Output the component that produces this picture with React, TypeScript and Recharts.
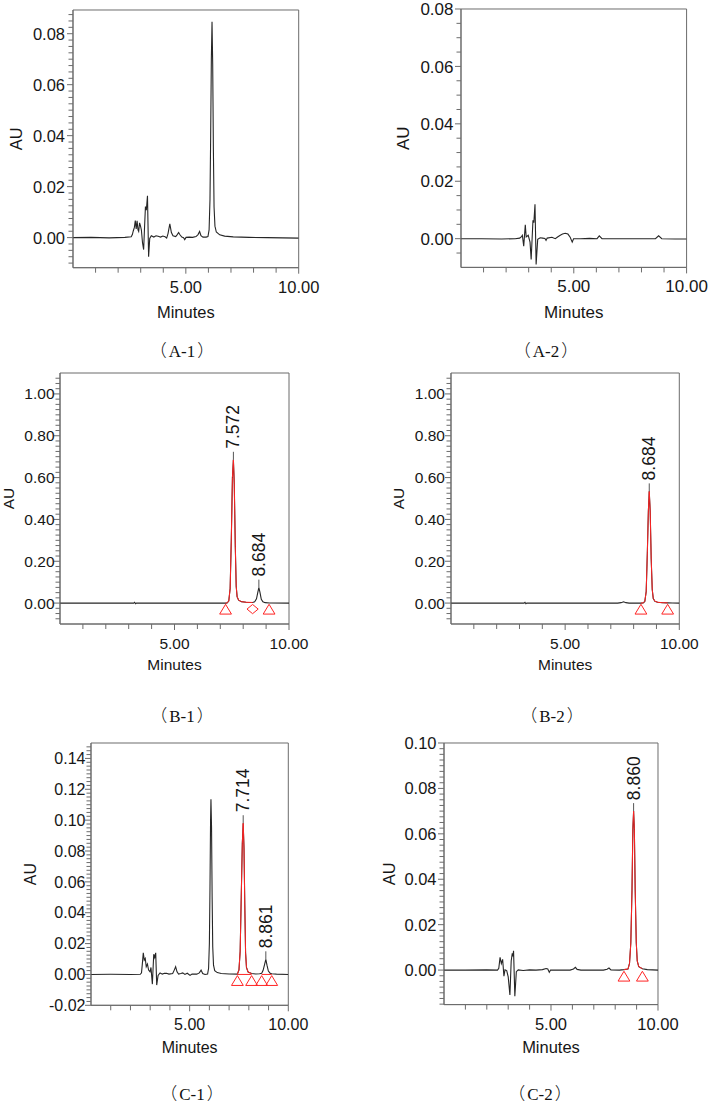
import React from 'react';
import { ComposedChart, Line, Scatter, XAxis, YAxis, ReferenceArea, Label } from 'recharts';

type Pt = [number, number];

// ---------- axis ticks ----------
const xTickValues = [0, 1, 2, 3, 4, 5, 6, 7, 8, 9, 10];
const xMajorTicks = [5, 10];

const a1Majors = [0, 0.02, 0.04, 0.06, 0.08];
const a2Majors = [0, 0.02, 0.04, 0.06, 0.08];
const bMajors = [0, 0.2, 0.4, 0.6, 0.8, 1.0];
const c1Majors = [-0.02, 0, 0.02, 0.04, 0.06, 0.08, 0.1, 0.12, 0.14];
const c2Majors = [0, 0.02, 0.04, 0.06, 0.08, 0.1];

// ---------- A-1 ----------
const a1Trace: Pt[] = [
  [0.0, 0.0], [0.8, 0.0001], [1.6, -0.0001], [2.3, 0.0001], [2.58, 0.0003],
  [2.63, 0.0012], [2.67, 0.0026], [2.72, 0.004], [2.76, 0.0067], [2.8, 0.0034],
  [2.84, 0.0066], [2.88, 0.003], [2.91, 0.0024], [2.95, 0.0058], [2.99, 0.0046],
  [3.03, 0.003], [3.08, -0.002], [3.13, -0.0047], [3.17, 0.004], [3.21, 0.0122],
  [3.25, 0.0108], [3.3, 0.0164], [3.35, -0.0075], [3.4, -0.0003], [3.47, 0.0007],
  [3.58, 0.0002], [3.68, 0.0007], [3.77, 0.0005], [3.88, 0.0002], [3.98, 0.0006],
  [4.08, 0.0003], [4.15, -0.0002], [4.21, 0.0016], [4.29, 0.0054], [4.36, 0.002],
  [4.43, 0.0007], [4.55, 0.0004], [4.62, 0.0012], [4.68, 0.002], [4.74, 0.0011],
  [4.82, 0.0002], [4.9, 0.0], [4.95, -0.0008], [5.01, 0.0001], [5.15, 0.0002],
  [5.3, 0.0001], [5.45, 0.0004], [5.54, 0.0012], [5.61, 0.0024], [5.67, 0.0008],
  [5.76, 0.0002], [5.9, 0.0002], [5.98, 0.0004], [6.03, 0.003], [6.07, 0.015],
  [6.1, 0.04], [6.13, 0.07], [6.16, 0.0847], [6.19, 0.068], [6.22, 0.035],
  [6.25, 0.012], [6.29, 0.0045], [6.35, 0.0022], [6.5, 0.0011], [6.72, 0.0006],
  [7.1, 0.0003], [7.8, 0.0001], [8.6, 0.0], [9.3, -0.0001], [10.0, -0.0002],
];

// ---------- A-2 ----------
const a2Trace: Pt[] = [
  [0.0, 0.0], [0.9, 0.0], [1.8, -0.0001], [2.4, 0.0], [2.6, 0.0002],
  [2.67, 0.0006], [2.72, 0.0012], [2.78, -0.0026], [2.85, 0.0048], [2.89, 0.0006],
  [2.98, 0.0012], [3.06, -0.0012], [3.11, -0.0072], [3.19, 0.0064], [3.23, 0.0056],
  [3.28, 0.012], [3.33, -0.009], [3.4, -0.0002], [3.51, 0.0003], [3.62, 0.0002],
  [3.72, 0.0001], [3.77, -0.0006], [3.82, 0.0002], [4.03, 0.0005], [4.18, 0.0],
  [4.28, 0.0006], [4.4, 0.0012], [4.5, 0.0016], [4.62, 0.0019], [4.74, 0.0016],
  [4.84, 0.0005], [4.93, -0.0012], [4.99, 0.0], [5.3, 0.0], [5.7, 0.0001],
  [6.03, 0.0], [6.13, 0.001], [6.25, 0.0], [7.0, 0.0], [7.65, 0.0],
  [8.62, 0.0], [8.76, 0.001], [8.9, 0.0], [9.5, -0.0001], [10.0, -0.0001],
];

// ---------- B-1 ----------
const b1Pre: Pt[] = [
  [0.0, 0.0], [1.5, 0.0], [3.0, 0.0], [3.22, 0.0], [3.26, 0.004], [3.3, -0.003],
  [3.34, 0.0], [4.5, 0.0], [6.0, 0.0], [7.0, 0.0],
];
const b1Red: Pt[] = [
  [7.23, 0.0], [7.3, 0.001], [7.37, 0.01], [7.43, 0.07], [7.48, 0.3], [7.53, 0.6],
  [7.572, 0.685], [7.61, 0.57], [7.655, 0.27], [7.695, 0.08], [7.735, 0.03], [7.8, 0.014],
  [7.92, 0.007], [8.12, 0.004], [8.41, 0.003],
];
const b1Post: Pt[] = [
  [8.5, 0.006], [8.58, 0.02], [8.64, 0.052], [8.684, 0.074], [8.73, 0.052], [8.79, 0.018],
  [8.86, 0.006], [8.96, 0.002], [9.15, 0.0005], [10.0, 0.0],
];
const b1Markers = [
  { t: 7.23, au: 0, kind: 'tri' },
  { t: 8.41, au: 0, kind: 'dia' },
  { t: 9.13, au: 0, kind: 'tri' },
];
const b1Labels = [
  { t: 7.572, au: 0.685, text: '7.572' },
  { t: 8.684, au: 0.074, text: '8.684' },
];

// ---------- B-2 ----------
const b2Pre: Pt[] = [
  [0.0, 0.0], [1.5, 0.0], [3.0, 0.0], [3.2, 0.0], [3.24, 0.004], [3.28, -0.003],
  [3.32, 0.0], [5.0, 0.0], [7.3, 0.0], [7.45, 0.002], [7.56, 0.006], [7.66, 0.002],
  [7.8, 0.0],
];
const b2Red: Pt[] = [
  [8.32, 0.0], [8.42, 0.001], [8.49, 0.008], [8.55, 0.055], [8.6, 0.24], [8.645, 0.44],
  [8.684, 0.534], [8.725, 0.44], [8.77, 0.21], [8.815, 0.065], [8.86, 0.022], [8.93, 0.009],
  [9.05, 0.004], [9.25, 0.002], [9.49, 0.001],
];
const b2Post: Pt[] = [[9.7, 0.0005], [10.0, 0.0]];
const b2Markers = [
  { t: 8.32, au: 0, kind: 'tri' },
  { t: 9.49, au: 0, kind: 'tri' },
];
const b2Labels = [{ t: 8.684, au: 0.534, text: '8.684' }];

// ---------- C-1 ----------
const c1Pre: Pt[] = [
  [0.0, 0.0], [1.0, 0.0001], [2.0, 0.0], [2.5, 0.0001], [2.56, 0.001], [2.6, 0.0065],
  [2.65, 0.014], [2.7, 0.0093], [2.75, 0.0104], [2.8, 0.005], [2.86, 0.0067], [2.92, 0.0028],
  [2.99, 0.0017], [3.04, 0.0045], [3.11, -0.0063], [3.18, 0.0131], [3.23, 0.011], [3.28, 0.014],
  [3.33, -0.0069], [3.4, -0.0006], [3.5, 0.001], [3.62, 0.0002], [3.72, 0.0007], [3.83, 0.0008],
  [3.95, 0.0002], [4.14, 0.0006], [4.22, 0.0028], [4.29, 0.005], [4.36, 0.0017], [4.44, 0.0002],
  [4.55, 0.0006], [4.65, 0.001], [4.76, 0.0], [4.88, 0.0008], [5.02, -0.0006], [5.12, 0.0002],
  [5.36, 0.0002], [5.49, 0.001], [5.58, 0.0028], [5.66, 0.0006], [5.78, 0.0], [5.91, 0.0003],
  [5.96, 0.004], [6.0, 0.02], [6.03, 0.055], [6.06, 0.1], [6.08, 0.1136], [6.11, 0.095],
  [6.14, 0.05], [6.17, 0.018], [6.21, 0.006], [6.27, 0.0025], [6.4, 0.0012], [6.6, 0.0006],
  [7.0, 0.0003],
];
const c1Red: Pt[] = [
  [7.42, 0.0002], [7.5, 0.003], [7.56, 0.015], [7.615, 0.05], [7.67, 0.085], [7.714, 0.098],
  [7.755, 0.082], [7.795, 0.045], [7.835, 0.014], [7.88, 0.0045], [7.96, 0.0016], [8.14, 0.0006],
];
const c1Mid: Pt[] = [[8.35, 0.0003], [8.55, 0.0004]];
const c1Minor: Pt[] = [
  [8.65, 0.0008], [8.72, 0.0025], [8.79, 0.006], [8.861, 0.0098], [8.92, 0.006],
  [8.99, 0.0022], [9.08, 0.0008], [9.16, 0.0004],
];
const c1Post: Pt[] = [[9.4, 0.0002], [10.0, 0.0]];
const c1RedBase1: Pt[] = [[7.42, 0.0], [8.14, 0.0]];
const c1RedBase2: Pt[] = [[8.65, 0.0], [9.16, 0.0]];
const c1Markers = [
  { t: 7.42, au: 0, kind: 'tri' },
  { t: 8.14, au: 0, kind: 'tri' },
  { t: 8.65, au: 0, kind: 'tri' },
  { t: 9.16, au: 0, kind: 'tri' },
];
const c1Labels = [
  { t: 7.714, au: 0.098, text: '7.714' },
  { t: 8.861, au: 0.0098, text: '8.861' },
];

// ---------- C-2 ----------
const c2Pre: Pt[] = [
  [0.0, 0.0], [1.0, 0.0], [2.0, 0.0001], [2.5, 0.0], [2.56, 0.0008], [2.62, 0.0056],
  [2.68, 0.0029], [2.74, 0.0047], [2.8, -0.0027], [2.85, 0.0001], [2.93, -0.0002], [3.0, -0.003],
  [3.08, -0.011], [3.14, 0.004], [3.19, 0.0074], [3.22, 0.006], [3.25, 0.0085], [3.31, -0.0115],
  [3.38, -0.0007], [3.47, 0.0001], [3.7, -0.0002], [4.0, 0.0001], [4.3, 0.0], [4.6, 0.0002],
  [4.77, 0.0007], [4.85, 0.0005], [4.92, -0.001], [4.98, 0.0], [5.4, 0.0], [5.89, 0.0],
  [6.05, 0.0005], [6.14, 0.0012], [6.22, 0.0003], [6.4, 0.0], [7.0, 0.0], [7.45, 0.0],
  [7.62, 0.0004], [7.71, 0.0009], [7.8, 0.0001], [8.2, 0.0],
];
const c2Red: Pt[] = [
  [8.41, 0.0002], [8.6, 0.0005], [8.67, 0.003], [8.73, 0.012], [8.785, 0.035], [8.825, 0.062],
  [8.86, 0.07], [8.895, 0.062], [8.935, 0.035], [8.985, 0.012], [9.03, 0.004], [9.1, 0.0015],
  [9.27, 0.0006],
];
const c2Post: Pt[] = [[9.5, 0.0002], [10.0, 0.0]];
const c2Markers = [
  { t: 8.41, au: 0, kind: 'tri' },
  { t: 9.27, au: 0, kind: 'tri' },
];
const c2Labels = [{ t: 8.86, au: 0.07, text: '8.860' }];

// ---------- styling ----------
const FONT = "'Liberation Sans', Arial, Helvetica, sans-serif";
const SERIF = "'Liberation Serif', 'Times New Roman', serif";
const CJK = "'Noto Sans CJK SC', 'Noto Sans CJK JP', sans-serif";
const AXIS = '#6b6b6b';
const TEXT = '#161616';
const INK = '#262626';
const RED = '#ff2323';

const toPts = (arr: Pt[]) => arr.map(([t, au]) => ({ t, au }));

function buildTicks(min: number, max: number, step: number) {
  const out: number[] = [];
  const n = Math.round((max - min) / step);
  for (let i = 0; i <= n; i++) out.push(Math.round((min + i * step) * 100000) / 100000);
  return out;
}

interface PanelCfg {
  L: number; T: number; R: number; B: number;
  yDomain: [number, number];
  yTicks: number[];
  yMajors: number[];
  font: number;
  yLabelDist: number;
  xLabelDist: number;
  auDist: number;
  minutesDist: number;
  black: Pt[];
  reds: Pt[][];
  markers: { t: number; au: number; kind: string }[];
  labels: { t: number; au: number; text: string }[];
}

const panels: PanelCfg[] = [
  {
    L: 73.3, T: 10, R: 299, B: 267.7, yDomain: [-0.0118, 0.0893],
    yTicks: buildTicks(-0.01, 0.0875, 0.0025), yMajors: a1Majors,
    font: 16.5, yLabelDist: 8, xLabelDist: 19.5, auDist: 57, minutesDist: 44,
    black: a1Trace, reds: [], markers: [], labels: [],
  },
  {
    L: 460.7, T: 9.3, R: 686.3, B: 267.7, yDomain: [-0.01, 0.08],
    yTicks: buildTicks(-0.005, 0.08, 0.005), yMajors: a2Majors,
    font: 17, yLabelDist: 7.5, xLabelDist: 18.5, auDist: 57, minutesDist: 44,
    black: a2Trace, reds: [], markers: [], labels: [],
  },
  {
    L: 60, T: 373.3, R: 289, B: 624.3, yDomain: [-0.1, 1.1],
    yTicks: buildTicks(-0.075, 1.075, 0.025), yMajors: bMajors,
    font: 15.5, yLabelDist: 5.5, xLabelDist: 19, auDist: 52, minutesDist: 40,
    black: [...b1Pre, ...b1Red, ...b1Post], reds: [b1Red], markers: b1Markers, labels: b1Labels,
  },
  {
    L: 450.7, T: 373.3, R: 679, B: 624.3, yDomain: [-0.1, 1.1],
    yTicks: buildTicks(-0.075, 1.075, 0.025), yMajors: bMajors,
    font: 15.5, yLabelDist: 6, xLabelDist: 19, auDist: 52, minutesDist: 40,
    black: [...b2Pre, ...b2Red, ...b2Post], reds: [b2Red], markers: b2Markers, labels: b2Labels,
  },
  {
    L: 91, T: 742.7, R: 288.3, B: 1005, yDomain: [-0.02, 0.15],
    yTicks: buildTicks(-0.02, 0.1475, 0.0025), yMajors: c1Majors,
    font: 16, yLabelDist: 5.5, xLabelDist: 18.5, auDist: 60, minutesDist: 42,
    black: [...c1Pre, ...c1Red, ...c1Mid, ...c1Minor, ...c1Post],
    reds: [c1RedBase1, c1RedBase2, c1Red], markers: c1Markers, labels: c1Labels,
  },
  {
    L: 444, T: 742.7, R: 658, B: 1004.3, yDomain: [-0.0152, 0.1],
    yTicks: buildTicks(-0.015, 0.1, 0.0025), yMajors: c2Majors,
    font: 16.5, yLabelDist: 7.5, xLabelDist: 19, auDist: 55, minutesDist: 42,
    black: [...c2Pre, ...c2Red, ...c2Post], reds: [c2Red], markers: c2Markers, labels: c2Labels,
  },
];

const captions = [
  { label: 'A-1', x: 182, y: 350 },
  { label: 'A-2', x: 546, y: 350 },
  { label: 'B-1', x: 182, y: 715 },
  { label: 'B-2', x: 552, y: 715 },
  { label: 'C-1', x: 192, y: 1093 },
  { label: 'C-2', x: 540, y: 1093 },
];

const isIn = (list: number[], v: number) => list.some((m) => Math.abs(m - v) < 1e-7);

const makeYTick = (cfg: PanelCfg) => (props: any) => {
  const { x, y, payload } = props;
  const v = payload.value as number;
  const major = isIn(cfg.yMajors, v);
  const len = major ? 6 : 4.5;
  return (
    <g>
      <line x1={x} y1={y} x2={x - len} y2={y} stroke={AXIS} strokeWidth={1} />
      {major && (
        <text x={x - cfg.yLabelDist} y={y} dy="0.36em" textAnchor="end" fontSize={cfg.font} fontFamily={FONT} fill={TEXT}>
          {v.toFixed(2)}
        </text>
      )}
    </g>
  );
};

const makeXTick = (cfg: PanelCfg) => (props: any) => {
  const { x, y, payload } = props;
  const v = payload.value as number;
  if (v === 0) return <g />;
  const major = isIn(xMajorTicks, v);
  return (
    <g>
      <line x1={x} y1={y} x2={x} y2={y + (major ? 6 : 5)} stroke={AXIS} strokeWidth={1} />
      {major && (
        <text x={x} y={y + cfg.xLabelDist} dy="0.36em" textAnchor="middle" fontSize={cfg.font} fontFamily={FONT} fill={TEXT}>
          {v.toFixed(2)}
        </text>
      )}
    </g>
  );
};

const MarkerShape = (props: any) => {
  const { cx, cy, payload } = props;
  if (payload.kind === 'dia') {
    const c = cy + 6;
    return (
      <polygon
        points={`${cx},${c - 4.6} ${cx + 5.6},${c} ${cx},${c + 4.6} ${cx - 5.6},${c}`}
        fill="none" stroke={RED} strokeWidth={1}
      />
    );
  }
  return (
    <polygon
      points={`${cx},${cy + 1.2} ${cx + 5.9},${cy + 11} ${cx - 5.9},${cy + 11}`}
      fill="none" stroke={RED} strokeWidth={1}
    />
  );
};

const PeakLabel = (props: any) => {
  const { cx, cy, payload } = props;
  const ty = cy - 11;
  return (
    <g>
      <line x1={cx} y1={cy} x2={cx} y2={cy - 8} stroke="#555" strokeWidth={1} />
      <text
        x={cx} y={ty} transform={`rotate(-90 ${cx} ${ty})`}
        textAnchor="start" dominantBaseline="central"
        fontSize={17.5} fontFamily={FONT} fill={TEXT}
      >
        {payload.text}
      </text>
    </g>
  );
};

function Panel({ cfg }: { cfg: PanelCfg }) {
  const yW = Math.min(70, cfg.L);
  const mt = 10;
  const mr = 30;
  const xH = 62;
  const plotW = cfg.R - cfg.L;
  const plotH = cfg.B - cfg.T;
  const width = yW + plotW + mr;
  const height = mt + plotH + xH;
  const left = cfg.L - yW;
  const top = cfg.T - mt;
  return (
    <div style={{ position: 'absolute', left, top, width, height }}>
      <ComposedChart width={width} height={height} margin={{ top: mt, right: mr, bottom: 0, left: 0 }}>
        <XAxis
          type="number" dataKey="t" domain={[0, 10]} ticks={xTickValues} interval={0}
          tick={makeXTick(cfg)} tickLine={false} tickSize={0} tickMargin={0}
          axisLine={{ stroke: AXIS }} height={xH} allowDataOverflow
        >
          <Label
            content={(p: any) => {
              const vb = p.viewBox;
              return (
                <text x={vb.x + vb.width / 2} y={vb.y + cfg.minutesDist} dy="0.36em" textAnchor="middle"
                  fontSize={cfg.font} fontFamily={FONT} fill={TEXT}>Minutes</text>
              );
            }}
          />
        </XAxis>
        <YAxis
          type="number" domain={cfg.yDomain} ticks={cfg.yTicks} interval={0}
          tick={makeYTick(cfg)} tickLine={false} tickSize={0} tickMargin={0}
          axisLine={{ stroke: AXIS }} width={yW} allowDataOverflow
        >
          <Label
            content={(p: any) => {
              const vb = p.viewBox;
              const x = vb.x + vb.width - cfg.auDist;
              const y = vb.y + vb.height / 2;
              return (
                <text x={x} y={y} transform={`rotate(-90 ${x} ${y})`} textAnchor="middle" dominantBaseline="central"
                  fontSize={cfg.font} fontFamily={FONT} fill={TEXT}>AU</text>
              );
            }}
          />
        </YAxis>
        <ReferenceArea x1={0} x2={10} y1={cfg.yDomain[0]} y2={cfg.yDomain[1]} fill="none" fillOpacity={0} stroke={AXIS} strokeWidth={1} ifOverflow="visible" />
        <Line data={toPts(cfg.black)} dataKey="au" type="linear" stroke={INK} strokeWidth={1.1} dot={false} activeDot={false} isAnimationActive={false} />
        {cfg.reds.map((seg, i) => (
          <Line key={`r${i}`} data={toPts(seg)} dataKey="au" type="linear" stroke={RED} strokeWidth={1} dot={false} activeDot={false} isAnimationActive={false} />
        ))}
        {cfg.markers.length > 0 && (
          <Scatter data={cfg.markers} dataKey="au" shape={MarkerShape} isAnimationActive={false} />
        )}
        {cfg.labels.length > 0 && (
          <Scatter data={cfg.labels} dataKey="au" shape={PeakLabel} isAnimationActive={false} />
        )}
      </ComposedChart>
    </div>
  );
}

export default function App() {
  return (
    <div style={{ position: 'absolute', left: 0, top: 0, width: 709, height: 1106, background: '#fff', overflow: 'hidden' }}>
      {panels.map((cfg, i) => (
        <Panel key={i} cfg={cfg} />
      ))}
      {captions.map((c, i) => (
        <div
          key={`c${i}`}
          style={{
            position: 'absolute', left: c.x, top: c.y, transform: 'translate(-50%, -50%)',
            fontFamily: SERIF, fontSize: 17, color: '#111', whiteSpace: 'nowrap', lineHeight: 1,
          }}
        >
          <span style={{ fontFamily: CJK, fontWeight: 300, marginRight: 2 }}>（</span>
          {c.label}
          <span style={{ fontFamily: CJK, fontWeight: 300, marginLeft: 2 }}>）</span>
        </div>
      ))}
    </div>
  );
}
